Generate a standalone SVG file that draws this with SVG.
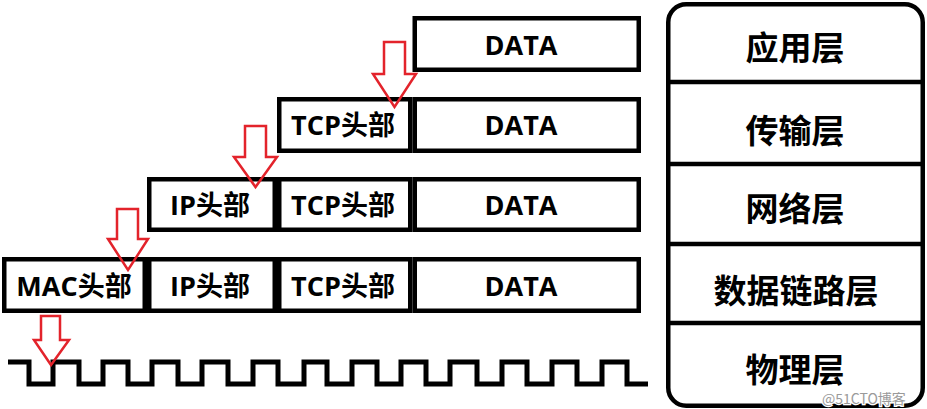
<svg xmlns="http://www.w3.org/2000/svg" width="927" height="409" viewBox="0 0 927 409">
<style>
.box{fill:#fff;stroke:#000;stroke-width:4.5}
.lbl{font-family:"Open Sans","Noto Sans CJK SC",sans-serif;font-weight:bold;font-size:27px;fill:#000;text-anchor:middle}
.layer{font-family:"Noto Sans CJK SC",sans-serif;font-weight:bold;font-size:33px;fill:#000;text-anchor:middle}
.arr{fill:none;stroke:#e3232b;stroke-width:2.5;stroke-linejoin:miter}
.wm{font-family:"Noto Sans CJK SC",sans-serif;font-size:14px;fill:#9a9a9a;stroke:#fff;stroke-width:2.5;paint-order:stroke}
</style>
<rect width="927" height="409" fill="#fff"/>
<g id="row1">
<g id="r1-data"><rect class="box" x="414.75" y="18.25" width="224" height="51.5"/><text class="lbl" x="521" y="55">DATA</text></g>
</g>
<g id="row2">
<g id="r2-tcp"><rect class="box" x="279.25" y="99.25" width="131" height="51.5"/><text class="lbl" x="343" y="135">TCP头部</text></g>
<g id="r2-data"><rect class="box" x="414.75" y="99.25" width="224" height="51.5"/><text class="lbl" x="521" y="135">DATA</text></g>
</g>
<g id="row3">
<g id="r3-ip"><rect class="box" x="149.25" y="179.25" width="125.5" height="50.5"/><text class="lbl" x="210" y="215">IP头部</text></g>
<g id="r3-tcp"><rect class="box" x="279.25" y="179.25" width="131" height="50.5"/><text class="lbl" x="343" y="215">TCP头部</text></g>
<g id="r3-data"><rect class="box" x="414.75" y="179.25" width="224" height="50.5"/><text class="lbl" x="521" y="215">DATA</text></g>
</g>
<g id="row4">
<g id="r4-mac"><rect class="box" x="4.25" y="259.25" width="140.5" height="51.5"/><text class="lbl" x="74" y="296">MAC头部</text></g>
<g id="r4-ip"><rect class="box" x="149.25" y="259.25" width="125.5" height="51.5"/><text class="lbl" x="210" y="296">IP头部</text></g>
<g id="r4-tcp"><rect class="box" x="279.25" y="259.25" width="131" height="51.5"/><text class="lbl" x="343" y="296">TCP头部</text></g>
<g id="r4-data"><rect class="box" x="414.75" y="259.25" width="224" height="51.5"/><text class="lbl" x="521" y="296">DATA</text></g>
</g>
<g id="signal">
<path d="M8,362 H29 V384 H53 V362 H79 V384 H103 V362 H128 V384 H152 V362 H178 V384 H202 V362 H228 V384 H253 V362 H278 V384 H304 V362 H327 V384 H352 V362 H377 V384 H401 V362 H426 V384 H450 V362 H477 V384 H502 V362 H527 V384 H552 V362 H577 V384 H602 V362 H627 V384 H648" fill="none" stroke="#000" stroke-width="5"/>
</g>
<g id="layers">
<rect x="668.25" y="4.25" width="254.5" height="401.5" rx="18" fill="#fff" stroke="#000" stroke-width="4.5"/>
<g id="l-app"><text class="layer" x="795" y="59.5">应用层</text></g>
<line x1="668" y1="82" x2="923" y2="82" stroke="#000" stroke-width="4.5"/>
<g id="l-trans"><text class="layer" x="795" y="142.5">传输层</text></g>
<line x1="668" y1="164" x2="923" y2="164" stroke="#000" stroke-width="4.5"/>
<g id="l-net"><text class="layer" x="795" y="220.5">网络层</text></g>
<line x1="668" y1="244" x2="923" y2="244" stroke="#000" stroke-width="4.5"/>
<g id="l-link"><text class="layer" x="796" y="302.5">数据链路层</text></g>
<line x1="668" y1="323" x2="923" y2="323" stroke="#000" stroke-width="4.5"/>
<g id="l-phy"><text class="layer" x="795" y="382">物理层</text></g>
</g>
<g id="connectors">
<polygon class="arr" points="384,42 405,42 405,74 416,74 394.5,107 373,74 384,74"/>
<polygon class="arr" points="245,126 266,126 266,157 277,157 255.5,187 234,157 245,157"/>
<polygon class="arr" points="117,209 138,209 138,239 148,239 128,270 108,239 117,239"/>
<polygon class="arr" points="41,316 60,316 60,340 69,340 51,365 34,340 41,340"/>
</g>
<text class="wm" x="822" y="404">@51CTO博客</text>
</svg>
